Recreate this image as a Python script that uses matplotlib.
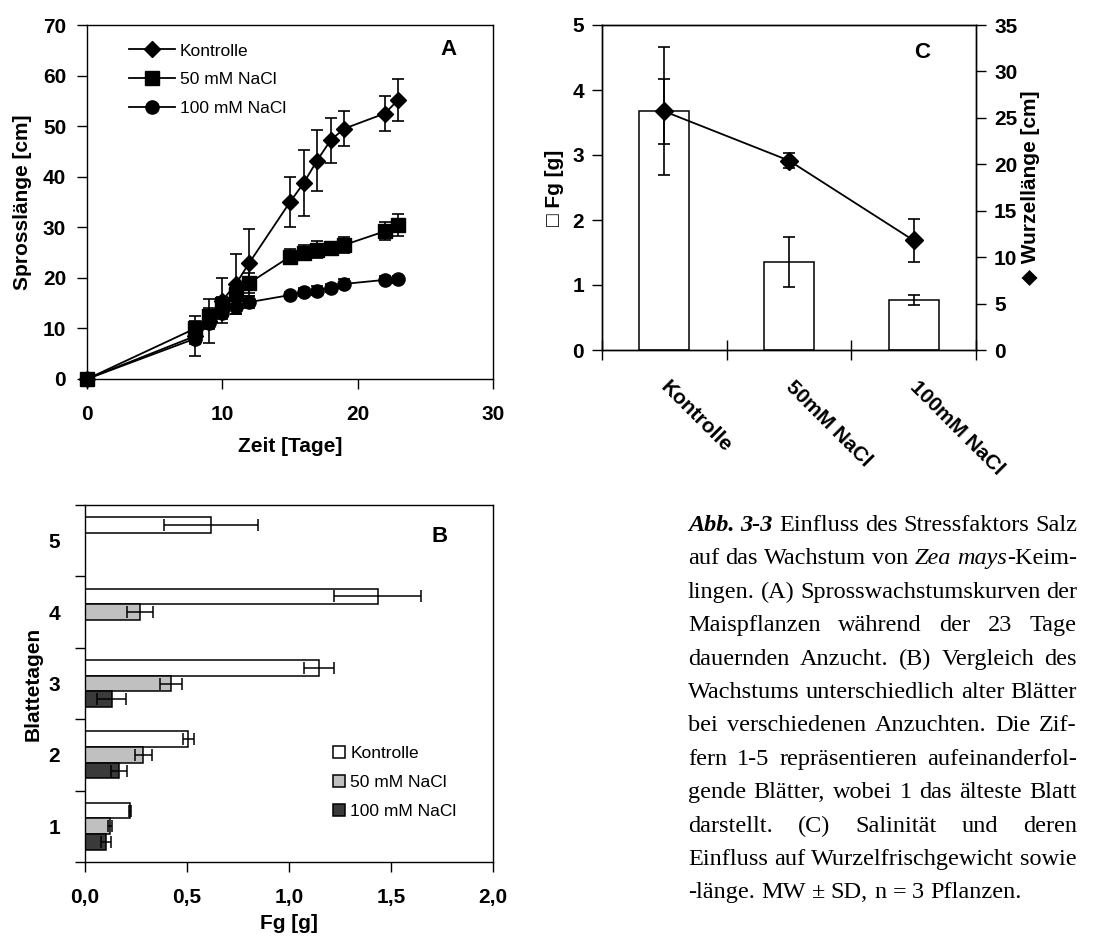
import re
import numpy as np
import matplotlib
matplotlib.use("Agg")
import matplotlib.pyplot as plt
from matplotlib.lines import Line2D
from matplotlib.patches import Patch
from matplotlib.ticker import FuncFormatter
from matplotlib import transforms

plt.rcParams["font.family"] = ["Liberation Sans", "DejaVu Sans"]
plt.rcParams["font.weight"] = "bold"
plt.rcParams["axes.labelweight"] = "bold"
plt.rcParams["axes.linewidth"] = 1.0

# --- A: shoot length over time ---
days = [0, 8, 9, 10, 11, 12, 15, 16, 17, 18, 19, 22, 23]
a_kontrolle = [0, 8.5, 11.5, 15.5, 18.8, 23.0, 35.0, 38.7, 43.2, 47.2, 49.5, 52.5, 55.2]
a_kontrolle_sd = [0, 4.0, 4.4, 4.5, 6.0, 6.6, 5.0, 6.5, 6.0, 4.5, 3.5, 3.5, 4.2]
a_nacl50 = [0, 10.0, 12.5, 14.8, 16.8, 19.0, 24.2, 25.0, 25.6, 25.9, 26.5, 29.2, 30.4]
a_nacl50_sd = [0, 1.5, 1.5, 1.5, 2.0, 2.0, 1.5, 1.5, 1.6, 1.2, 1.5, 1.8, 2.2]
a_nacl100 = [0, 8.0, 11.0, 13.0, 14.3, 15.2, 16.6, 17.2, 17.5, 18.0, 18.8, 19.6, 19.7]
a_nacl100_sd = [0, 1.0, 1.2, 1.2, 1.5, 1.2, 0.6, 0.8, 0.8, 0.8, 0.9, 0.7, 0.7]
series_labels = ["Kontrolle", "50 mM NaCl", "100 mM NaCl"]

# --- B: fresh weight per leaf ---
leaves = [1, 2, 3, 4, 5]
b_kontrolle = [0.221, 0.507, 1.148, 1.434, 0.617]
b_kontrolle_sd = [0.005, 0.025, 0.075, 0.215, 0.23]
b_nacl50 = [0.123, 0.286, 0.422, 0.270, np.nan]
b_nacl50_sd = [0.01, 0.04, 0.055, 0.065, np.nan]
b_nacl100 = [0.103, 0.168, 0.131, np.nan, np.nan]
b_nacl100_sd = [0.023, 0.04, 0.07, np.nan, np.nan]

# --- C: root fresh weight and root length ---
c_groups = ["Kontrolle", "50mM NaCl", "100mM NaCl"]
c_fg = [3.68, 1.35, 0.77]
c_fg_sd = [0.98, 0.385, 0.077]
c_len = [25.7, 20.4, 11.8]
c_len_sd = [3.5, 0.8, 2.3]

caption = [
    "**Abb.** **3-3** Einfluss des Stressfaktors Salz",
    "auf das Wachstum von _Zea_ _mays_-Keim-",
    "lingen. (A) Sprosswachstumskurven der",
    "Maispflanzen während der 23 Tage",
    "dauernden Anzucht. (B) Vergleich des",
    "Wachstums unterschiedlich alter Blätter",
    "bei verschiedenen Anzuchten. Die Zif-",
    "fern 1-5 repräsentieren aufeinanderfol-",
    "gende Blätter, wobei 1 das älteste Blatt",
    "darstellt. (C) Salinität und deren",
    "Einfluss auf Wurzelfrischgewicht sowie",
    "-länge. MW ± SD, n = 3 Pflanzen.",
]

W, H = 1103, 940
fig = plt.figure(figsize=(W / 100, H / 100), dpi=100)


def px_axes(x0, y0, x1, y1):
    return fig.add_axes([x0 / W, 1 - y1 / H, (x1 - x0) / W, (y1 - y0) / H])


TICK = 15
LEG = 12.5

# ---------------- panel A ----------------
axA = px_axes(87, 25, 493, 379)
markers = ["D", "s", "o"]
sizes = [8, 10, 9.5]
a_data = [(a_kontrolle, a_kontrolle_sd), (a_nacl50, a_nacl50_sd), (a_nacl100, a_nacl100_sd)]
for (vals, sd), m, ms in zip(a_data, markers, sizes):
    axA.errorbar(days, vals, yerr=sd, color="k", marker=m, ms=ms, lw=1.3,
                 elinewidth=1.2, capsize=4.5, capthick=1.2, clip_on=False, zorder=3)
axA.set_xlim(0, 30)
axA.set_ylim(0, 70)
axA.set_xticks([0, 10, 20, 30])
axA.set_yticks(range(0, 71, 10))
axA.tick_params(axis="x", direction="out", length=7, width=1, labelsize=TICK, pad=12)
axA.tick_params(axis="y", direction="out", length=7, width=1, labelsize=TICK, pad=8)
axA.set_xlabel("Zeit [Tage]", fontsize=TICK)
axA.set_ylabel("Sprosslänge [cm]", fontsize=TICK)
axA.xaxis.set_label_coords(0.5, -0.165)
axA.yaxis.set_label_coords(-0.135, 0.5)
handles = [Line2D([], [], color="k", marker=m, ms=ms, lw=1.3) for m, ms in zip(markers, sizes)]
axA.legend(handles, series_labels, loc="upper left", bbox_to_anchor=(0.103, 0.948),
           frameon=False, prop={"size": LEG, "weight": "normal"}, borderpad=0,
           borderaxespad=0, handlelength=2.65, handletextpad=0.3, labelspacing=0.78)
axA.text(0.89, 0.93, "A", transform=axA.transAxes, fontsize=16, ha="center", va="center")

# ---------------- panel B ----------------
axB = px_axes(85, 505, 493, 862)
y = np.array(leaves, dtype=float)
bh = 0.22
b_sets = [
    (b_kontrolle, b_kontrolle_sd, "white", bh),
    (b_nacl50, b_nacl50_sd, "#c0c0c0", 0.0),
    (b_nacl100, b_nacl100_sd, "#3a3a3a", -bh),
]
for vals, sd, col, off in b_sets:
    vals = np.array(vals)
    sd = np.array(sd)
    ok = ~np.isnan(vals)
    axB.barh(y[ok] + off, vals[ok], height=bh, color=col, edgecolor="k", lw=1.1, zorder=2)
    axB.errorbar(vals[ok], y[ok] + off, xerr=sd[ok], fmt="none", ecolor="k",
                 elinewidth=1.1, capsize=4.3, capthick=1.1, zorder=3)
axB.set_xlim(0, 2.0)
axB.set_ylim(0.5, 5.5)
axB.set_xticks([0, 0.5, 1.0, 1.5, 2.0])
axB.xaxis.set_major_formatter(FuncFormatter(lambda v, p: f"{v:.1f}".replace(".", ",")))
axB.set_yticks(np.arange(0.5, 5.6, 1.0))
axB.set_yticklabels([])
axB.set_yticks(leaves, minor=True)
axB.set_yticklabels([str(l) for l in leaves], minor=True)
axB.tick_params(axis="x", direction="out", length=7, width=1, labelsize=TICK, pad=12)
axB.tick_params(axis="y", which="major", direction="out", length=7, width=1)
axB.tick_params(axis="y", which="minor", length=0, labelsize=TICK, pad=18)
axB.set_xlabel("Fg [g]", fontsize=TICK)
axB.set_ylabel("Blattetagen", fontsize=TICK)
axB.xaxis.set_label_coords(0.5, -0.145)
axB.yaxis.set_label_coords(-0.103, 0.5)
b_handles = [Patch(facecolor=c, edgecolor="k", lw=1.1) for c in ["white", "#c0c0c0", "#3a3a3a"]]
axB.legend(b_handles, series_labels, loc="upper left", bbox_to_anchor=(0.608, 0.326),
           frameon=False, prop={"size": LEG, "weight": "normal"}, borderpad=0,
           borderaxespad=0, handlelength=0.7, handleheight=0.7, handletextpad=0.3,
           labelspacing=0.8)
axB.text(0.868, 0.913, "B", transform=axB.transAxes, fontsize=16, ha="center", va="center")

# ---------------- panel C ----------------
axC = px_axes(602, 25, 976, 350)
xc = np.arange(len(c_groups))
axC.bar(xc, c_fg, width=0.4, color="white", edgecolor="k", lw=1.1, zorder=2)
axC.errorbar(xc, c_fg, yerr=c_fg_sd, fmt="none", ecolor="k", elinewidth=1.2,
             capsize=4, capthick=1.2, zorder=3)
axC.set_xlim(-0.5, 2.5)
axC.set_ylim(0, 5)
axC.set_yticks(range(0, 6))
axC.set_xticks([-0.5, 0.5, 1.5, 2.5])
axC.set_xticklabels([])
axC.tick_params(axis="x", direction="inout", length=15, width=1)
axC.tick_params(axis="y", direction="out", length=7, width=1, labelsize=TICK, pad=6)
axC.set_ylabel("□ Fg [g]", fontsize=TICK)
axC.yaxis.set_label_coords(-0.102, 0.5)
lab_tr = transforms.blended_transform_factory(axC.transData, axC.transAxes)
for i, g in enumerate(c_groups):
    axC.text(i + 0.05, -0.085, g, transform=lab_tr, rotation=-45, rotation_mode="anchor",
             ha="left", va="top", fontsize=TICK)

axC2 = axC.twinx()
axC2.errorbar(xc, c_len, yerr=c_len_sd, color="k", marker="D", ms=9, lw=1.3,
              elinewidth=1.2, capsize=4, capthick=1.2, zorder=3)
axC2.set_ylim(0, 35)
axC2.set_yticks(range(0, 36, 5))
axC2.tick_params(axis="y", direction="out", length=7, width=1, labelsize=TICK, pad=6)
axC2.set_ylabel("◆ Wurzellänge [cm]", fontsize=TICK, rotation=90)
axC2.yaxis.set_label_coords(1.12, 0.5)
axC2.yaxis.label.set_va("top")
axC.text(0.856, 0.914, "C", transform=axC.transAxes, fontsize=16, ha="center", va="center")


# ---------------- caption (justified) ----------------
def word_runs(word):
    runs = []
    for p in re.findall(r"\*\*[^*]+\*\*|_[^_]+_|[^*_]+", word):
        if p.startswith("**"):
            runs.append((p[2:-2], "bold", "italic"))
        elif p.startswith("_"):
            runs.append((p[1:-1], "normal", "italic"))
        else:
            runs.append((p, "normal", "normal"))
    return runs


CAP_SIZE = 17.5
x_left, x_right = 688, 1077
base0, line_step = 531, 33.4
renderer = fig.canvas.get_renderer()
space_px = 0.25 * CAP_SIZE * 100 / 72

for li, line in enumerate(caption):
    words = []
    for w in line.split(" "):
        texts = []
        for s, wt, st in word_runs(w):
            t = fig.text(0, 0, s, family="Liberation Serif", fontsize=CAP_SIZE,
                         weight=wt, style=st, va="baseline", ha="left",
                         transform=None)
            texts.append((t, t.get_window_extent(renderer).width))
        words.append(texts)
    widths = [sum(wd for _, wd in ws) for ws in words]
    last = li == len(caption) - 1
    if last or len(words) < 2:
        gap = space_px
    else:
        gap = (x_right - x_left - sum(widths)) / (len(words) - 1)
    x = x_left
    ybase = H - (base0 + li * line_step)
    for ws, wsum in zip(words, widths):
        xx = x
        for t, wd in ws:
            t.set_position((xx, ybase))
            xx += wd
        x += wsum + gap

fig.savefig("out.png", dpi=100)
